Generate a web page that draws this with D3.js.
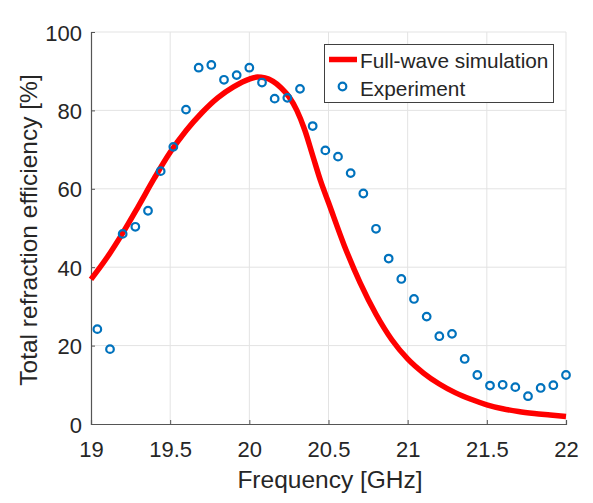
<!DOCTYPE html>
<html>
<head>
<meta charset="utf-8">
<script src="https://cdn.jsdelivr.net/npm/d3@7"></script>
<style>
  body { margin: 0; background: #fff; }
  text { font-family: "Liberation Sans", Arial, sans-serif; fill: #262626; }
</style>
</head>
<body>
<svg width="593" height="503"></svg>
<script>
// simulated curve (red)
const simFreq = [19.0, 19.1, 19.2, 19.3, 19.4, 19.5, 19.6, 19.7, 19.8, 19.9, 20.0, 20.05, 20.1, 20.15, 20.2, 20.25,
    20.3, 20.35, 20.4, 20.45, 20.5, 20.6, 20.7, 20.8, 20.9, 21.0, 21.1, 21.2, 21.3, 21.4, 21.5, 21.6, 21.7, 21.8, 21.9, 22.0];
const simEff = [36.9, 42.4, 48.7, 55.6, 62.7, 69.3, 74.8, 79.4, 83.2, 86, 88, 88.5, 88.3, 87.4, 85.8, 83.5,
    80, 75, 68.5, 62, 56.5, 45.5, 36, 28, 21.5, 16.6, 13, 10.2, 8, 6.3, 4.9, 3.9, 3.2, 2.7, 2.3, 1.9];

// measured points (blue circles)
const expFreq = [19.04, 19.12, 19.20, 19.28, 19.36, 19.44, 19.52, 19.60, 19.68, 19.76, 19.84, 19.92, 20.00,
    20.08, 20.16, 20.24, 20.32, 20.40, 20.48, 20.56, 20.64, 20.72, 20.80, 20.88, 20.96, 21.04, 21.12,
    21.20, 21.28, 21.36, 21.44, 21.52, 21.60, 21.68, 21.76, 21.84, 21.92, 22.00];
const expEff = [24.2, 19.1, 48.5, 50.3, 54.4, 64.5, 70.7, 80.2, 90.9, 91.6, 87.8, 89.0, 90.9,
    87.1, 83.0, 83.2, 85.5, 76.0, 69.8, 68.2, 64.0, 58.8, 49.8, 42.2, 37.0, 31.9, 27.4,
    22.4, 23.0, 16.6, 12.5, 9.8, 10.0, 9.4, 7.1, 9.2, 9.9, 12.5];

const xTicks = [19, 19.5, 20, 20.5, 21, 21.5, 22];
const yTicks = [0, 20, 40, 60, 80, 100];
const legendLabels = ['Full-wave simulation', 'Experiment'];

const svg = d3.select('svg');
const mLeft = 91, mRight = 566, mTop = 32, mBottom = 424;

const x = d3.scaleLinear().domain([19, 22]).range([mLeft, mRight]);
const y = d3.scaleLinear().domain([0, 100]).range([mBottom, mTop]);

// grid
const grid = svg.append('g');
grid.selectAll('.gx')
    .data(xTicks.slice(1))
    .enter().append('line')
    .attr('x1', d => x(d)).attr('x2', d => x(d))
    .attr('y1', mTop).attr('y2', mBottom)
    .attr('stroke', '#e3e3e3').attr('stroke-width', 1);
grid.selectAll('.gy')
    .data(yTicks.slice(1))
    .enter().append('line')
    .attr('x1', mLeft).attr('x2', mRight)
    .attr('y1', d => y(d)).attr('y2', d => y(d))
    .attr('stroke', '#e3e3e3').attr('stroke-width', 1);

// axes, ticks pointing inwards like matlab
const xAxis = svg.append('g')
    .attr('transform', 'translate(0,' + mBottom + ')')
    .call(d3.axisBottom(x).tickValues(xTicks).tickSize(-4).tickPadding(0).tickFormat(d3.format('')));
const yAxis = svg.append('g')
    .attr('transform', 'translate(' + mLeft + ',0)')
    .call(d3.axisLeft(y).tickValues(yTicks).tickSize(-4).tickPadding(0));

[xAxis, yAxis].forEach(a => {
    a.select('.domain').attr('stroke', '#555').attr('stroke-width', 1.2);
    a.selectAll('.tick line').attr('stroke', '#555');
    a.selectAll('text')
        .style('font-family', '"Liberation Sans", Arial, sans-serif')
        .style('font-size', '22px')
        .attr('fill', '#262626');
});
xAxis.selectAll('text').attr('dy', null).attr('y', 32.5);
yAxis.selectAll('text').attr('dy', null).attr('x', -9).attr('y', 8);

// labels
svg.append('text')
    .attr('x', (mLeft + mRight) / 2 + 1.5)
    .attr('y', 487.5)
    .attr('text-anchor', 'middle')
    .style('font-size', '24.5px')
    .text('Frequency [GHz]');
svg.append('text')
    .attr('transform', 'translate(37,230) rotate(-90)')
    .attr('text-anchor', 'middle')
    .style('font-size', '24.5px')
    .text('Total refraction efficiency [%]');

// simulation line
const line = d3.line()
    .x((d, i) => x(simFreq[i]))
    .y(d => y(d))
    .curve(d3.curveMonotoneX);

svg.append('path')
    .datum(simEff)
    .attr('d', line)
    .attr('fill', 'none')
    .attr('stroke', '#ff0000')
    .attr('stroke-width', 5.5);

// experiment points
svg.append('g')
    .selectAll('circle')
    .data(expEff)
    .enter().append('circle')
    .attr('cx', (d, i) => x(expFreq[i]))
    .attr('cy', d => y(d))
    .attr('r', 3.8)
    .attr('fill', 'none')
    .attr('stroke', '#0072bd')
    .attr('stroke-width', 2.2);

// legend
const legend = svg.append('g');
legend.append('rect')
    .attr('x', 324.5).attr('y', 44.5)
    .attr('width', 229).attr('height', 58)
    .attr('fill', '#fff')
    .attr('stroke', '#404040').attr('stroke-width', 1);
legend.append('line')
    .attr('x1', 329).attr('x2', 357)
    .attr('y1', 59.5).attr('y2', 59.5)
    .attr('stroke', '#ff0000').attr('stroke-width', 5.5);
legend.append('circle')
    .attr('cx', 342.5).attr('cy', 86.5).attr('r', 3.8)
    .attr('fill', 'none')
    .attr('stroke', '#0072bd').attr('stroke-width', 2.2);
legend.selectAll('.lt')
    .data(legendLabels)
    .enter().append('text')
    .attr('x', 360)
    .attr('y', (d, i) => 68 + i * 27.5)
    .style('font-size', '20.8px')
    .attr('fill', '#000')
    .text(d => d);
</script>
</body>
</html>
